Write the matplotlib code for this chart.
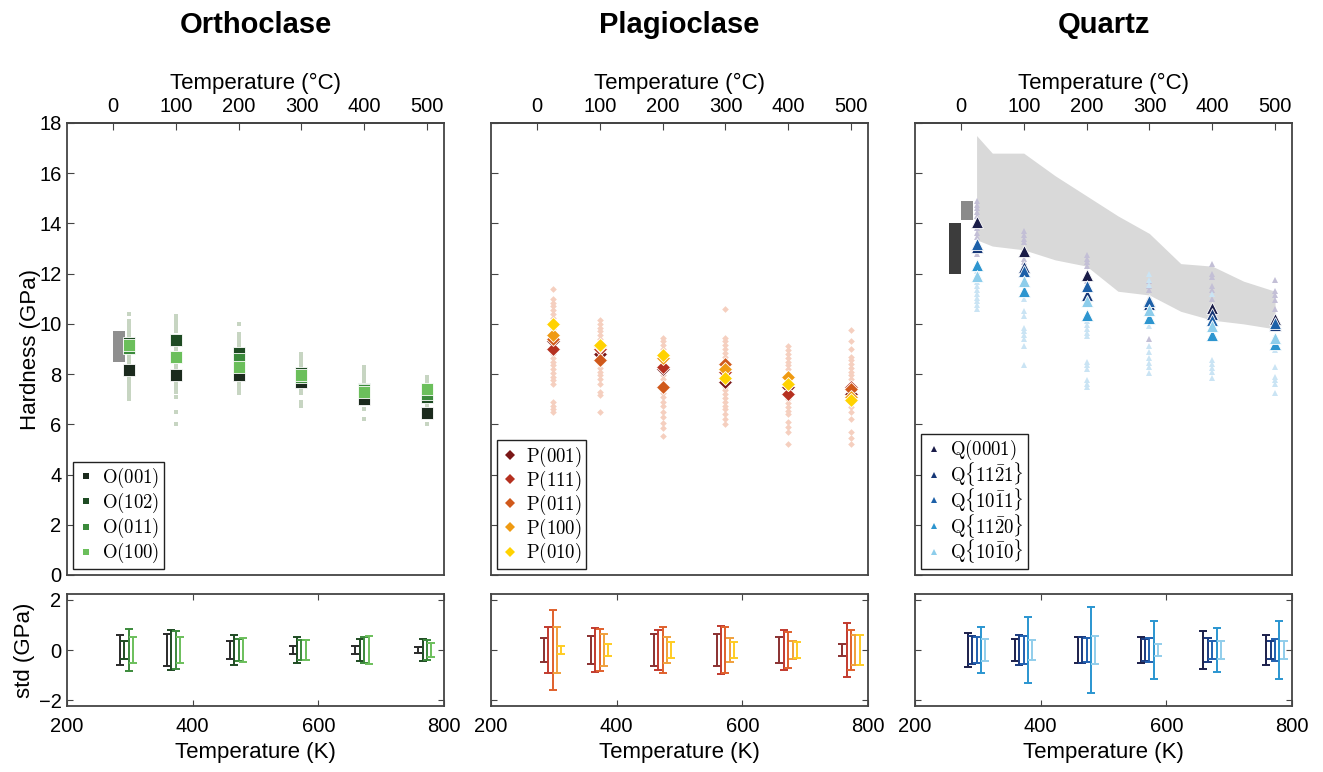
import matplotlib
matplotlib.use('Agg')
import matplotlib.pyplot as plt

plt.rcParams['font.family'] = ['Liberation Sans', 'DejaVu Sans']
plt.rcParams['mathtext.fontset'] = 'cm'

# ---------------- shared axes values ----------------
T_K = [298, 373, 473, 573, 673, 773]
T_C_ticks = [0, 100, 200, 300, 400, 500]
K_ticks = [200, 400, 600, 800]
H_ticks = [0, 2, 4, 6, 8, 10, 12, 14, 16, 18]
std_ticks = [-2, 0, 2]
bar_offsets = [-14, -7, 0, 7, 14]

# ---------------- Orthoclase ----------------
ortho_labels = [r'$\mathrm{O(001)}$', r'$\mathrm{O(102)}$', r'$\mathrm{O(011)}$', r'$\mathrm{O(100)}$']
ortho_colors = ['#1b2a1d', '#1e4b23', '#3b8a3b', '#6bbf5b']
ortho_bar_colors = ['#2a2a2a', '#1e4b23', '#3b8a3b', '#6bbf5b']
ortho_mean = [
    [8.15, 7.95, 7.95, 7.70, 7.00, 6.45],
    [9.25, 9.35, 8.85, 8.05, 7.40, 7.10],
    [9.05, 8.70, 8.60, 7.90, 7.35, 7.20],
    [9.15, 8.70, 8.30, 7.95, 7.30, 7.40],
]
ortho_std = [
    [0.61, 0.64, 0.37, 0.17, 0.17, 0.12],
    [0.37, 0.79, 0.61, 0.53, 0.42, 0.45],
    [0.83, 0.74, 0.42, 0.40, 0.50, 0.40],
    [0.52, 0.50, 0.48, 0.40, 0.56, 0.29],
]
ortho_pts = [
    [10.4, 10.1, 9.95, 9.8, 9.65, 9.5, 9.35, 9.2, 9.05, 8.9, 8.75, 8.6, 8.45, 8.3, 8.0, 7.85, 7.7, 7.55, 7.4, 7.25, 7.1, 7.0],
    [10.3, 10.15, 10.0, 9.85, 9.7, 9.5, 9.2, 9.05, 8.9, 8.75, 8.5, 8.35, 8.2, 7.75, 7.6, 7.45, 7.3, 7.1, 6.5, 6.0],
    [10.0, 9.6, 9.45, 9.3, 9.15, 9.0, 8.15, 8.0, 7.8, 7.65, 7.5, 7.35, 7.25],
    [8.8, 8.65, 8.5, 8.35, 8.2, 7.55, 7.4, 7.25, 6.9, 6.75],
    [8.3, 8.15, 8.0, 7.85, 7.7, 7.55, 7.1, 6.95, 6.8, 6.6, 6.2],
    [7.9, 7.75, 7.6, 7.45, 6.95, 6.8, 6.65, 6.0],
]
ortho_lit_T = [273, 292]
ortho_lit_H = [8.5, 9.7]

# ---------------- Plagioclase ----------------
plag_labels = [r'$\mathrm{P(001)}$', r'$\mathrm{P(111)}$', r'$\mathrm{P(011)}$', r'$\mathrm{P(100)}$', r'$\mathrm{P(010)}$']
plag_colors = ['#7a1616', '#b5301f', '#d0591b', '#ef9a12', '#ffd200']
plag_bar_colors = ['#8a3030', '#c23a2e', '#e0602c', '#f0a03c', '#ffcc22']
plag_mean = [
    [9.30, 8.80, 8.20, 7.70, 7.50, 7.20],
    [9.00, 9.00, 8.30, 8.10, 7.20, 7.50],
    [9.40, 8.55, 7.50, 8.40, 7.60, 7.40],
    [9.55, 9.10, 8.65, 8.20, 7.90, 7.10],
    [10.00, 9.15, 8.75, 7.85, 7.60, 6.95],
]
plag_std = [
    [0.48, 0.56, 0.63, 0.63, 0.50, 0.24],
    [0.93, 0.86, 0.79, 0.97, 0.79, 1.07],
    [1.60, 0.82, 0.91, 0.91, 0.71, 0.78],
    [0.93, 0.63, 0.52, 0.48, 0.36, 0.60],
    [0.17, 0.25, 0.30, 0.30, 0.33, 0.60],
]
plag_pts = [
    [11.4, 11.0, 10.85, 10.7, 10.55, 10.4, 10.25, 10.1, 9.8, 9.65, 9.2, 9.05, 8.8, 8.65, 8.5, 8.35, 8.2, 8.05, 7.9, 7.75, 7.6, 6.9, 6.75, 6.6, 6.5],
    [10.15, 10.0, 9.85, 9.7, 9.55, 9.4, 9.25, 8.75, 8.4, 8.25, 8.1, 7.95, 7.8, 7.6, 7.3, 7.15, 6.5],
    [9.45, 9.3, 9.15, 9.0, 8.85, 8.5, 8.35, 8.1, 7.95, 7.8, 7.25, 7.1, 6.9, 6.75, 6.5, 6.3, 6.05, 5.85, 5.55],
    [10.6, 9.45, 9.3, 9.15, 9.0, 8.85, 8.7, 7.9, 7.5, 7.35, 7.2, 7.05, 6.9, 6.75, 6.6, 6.4, 6.2, 6.0],
    [9.1, 8.95, 8.8, 8.65, 8.5, 8.35, 8.2, 7.0, 6.85, 6.7, 6.55, 6.4, 6.1, 5.9, 5.7, 5.2],
    [9.75, 9.3, 9.0, 8.7, 8.55, 8.4, 8.25, 8.1, 7.95, 7.8, 7.0, 6.85, 6.7, 6.5, 6.2, 5.7, 5.45, 5.2],
]

# ---------------- Quartz ----------------
qtz_labels = [r'$\mathrm{Q(0001)}$', r'$\mathrm{Q\{11\bar{2}1\}}$', r'$\mathrm{Q\{10\bar{1}1\}}$',
              r'$\mathrm{Q\{11\bar{2}0\}}$', r'$\mathrm{Q\{10\bar{1}0\}}$']
qtz_colors = ['#1a1c48', '#163777', '#1d60a8', '#2d95cf', '#8dcdeb']
qtz_bar_colors = ['#1b1f4b', '#1a3a80', '#2060b0', '#2a95d0', '#90cdeb']
qtz_mean = [
    [14.05, 12.90, 11.95, 10.95, 10.65, 10.20],
    [13.05, 12.25, 11.15, 10.80, 10.40, 9.95],
    [13.20, 12.10, 11.50, 10.90, 10.15, 10.05],
    [12.35, 11.30, 10.35, 10.25, 9.55, 9.20],
    [11.90, 11.70, 10.90, 10.55, 9.90, 9.45],
]
qtz_std = [
    [0.67, 0.42, 0.52, 0.50, 0.77, 0.61],
    [0.57, 0.58, 0.52, 0.45, 0.49, 0.37],
    [0.52, 0.54, 0.46, 0.48, 0.37, 0.42],
    [0.90, 1.32, 1.72, 1.15, 0.86, 1.14],
    [0.45, 0.41, 0.56, 0.24, 0.34, 0.34],
]
qtz_pts_lav = [
    [14.9, 14.75, 14.6, 14.45, 14.3, 13.8, 13.6, 13.45, 12.8],
    [13.7, 13.55, 13.4, 13.25, 12.6, 12.45, 12.1],
    [12.75, 12.6, 12.45, 12.3, 11.7, 11.55],
    [11.7, 11.5, 11.35, 9.4],
    [12.4, 12.0, 11.85, 11.5, 11.35, 11.0, 10.0],
    [11.75, 11.3, 11.15, 10.95, 10.6, 9.8],
]
qtz_pts_blue = [
    [12.1, 11.95, 11.8, 11.65, 11.5, 11.35, 11.2, 11.05, 10.9, 10.75, 10.6],
    [11.55, 11.0, 10.5, 10.3, 9.85, 9.7, 9.55, 9.4, 9.1, 8.35],
    [10.1, 9.95, 9.8, 9.65, 9.5, 8.5, 8.35, 8.2, 7.75, 7.6, 7.5],
    [12.0, 11.75, 11.55, 10.7, 9.9, 9.1, 8.9, 8.65, 8.45, 8.3, 8.05],
    [11.2, 9.4, 8.55, 8.4, 8.25, 8.1, 7.85],
    [9.5, 8.95, 8.3, 7.9, 7.75, 7.6, 7.25],
]
qtz_band_T = [298, 323, 373, 423, 473, 523, 573, 623, 673, 723, 773]
qtz_band_hi = [17.5, 16.8, 16.8, 15.9, 15.1, 14.3, 13.6, 12.4, 12.3, 11.7, 11.3]
qtz_band_lo = [13.35, 13.1, 12.95, 12.55, 12.3, 11.3, 11.15, 10.5, 10.15, 10.0, 9.8]
qtz_lit1_T = [273, 292.5]
qtz_lit1_H = [14.15, 14.9]
qtz_lit2_T = [254, 273]
qtz_lit2_H = [12.0, 14.0]

# ---------------- figure ----------------
W, H = 1323, 772
fig = plt.figure(figsize=(W / 100, H / 100), dpi=100)

lefts = [67, 491, 915]
pw = 377
top_box = (123, 575)
bot_box = (594, 706)
SPINE = '#444444'
titles = ['Orthoclase', 'Plagioclase', 'Quartz']


def frac_rect(l, y0, y1):
    return [l / W, 1 - y1 / H, pw / W, (y1 - y0) / H]


def style(ax):
    for s in ax.spines.values():
        s.set_color(SPINE)
        s.set_linewidth(1.3)


top_axes, bot_axes = [], []
for i, l in enumerate(lefts):
    ta = fig.add_axes(frac_rect(l, *top_box))
    ba = fig.add_axes(frac_rect(l, *bot_box))
    style(ta)
    style(ba)
    ta.set_xlim(200, 800)
    ta.set_ylim(0, 18)
    ta.set_yticks(H_ticks)
    ta.tick_params(axis='y', direction='in', length=5, labelsize=14.5, pad=4,
                   left=True, right=False, labelleft=(i == 0), color=SPINE)
    ta.tick_params(axis='x', bottom=False, labelbottom=False)
    sec = ta.secondary_xaxis('top', functions=(lambda k: k - 273.15, lambda c: c + 273.15))
    sec.set_xticks(T_C_ticks)
    sec.tick_params(direction='in', length=5, labelsize=14.5, pad=5, color=SPINE)
    sec.spines['top'].set_color(SPINE)
    sec.spines['top'].set_linewidth(1.3)
    sec.set_xlabel('Temperature (°C)', fontsize=16, labelpad=6)

    ba.set_xlim(200, 800)
    ba.set_ylim(-2.22, 2.22)
    ba.set_xticks(K_ticks)
    ba.set_yticks(std_ticks)
    ba.tick_params(direction='in', length=4, labelsize=14.5, top=True, right=True,
                   labelleft=(i == 0), color=SPINE)
    ba.tick_params(axis='x', pad=8)
    ba.tick_params(axis='y', pad=4)
    ba.set_xlabel('Temperature (K)', fontsize=16, labelpad=4)

    fig.text((l + pw / 2) / W, 1 - 25 / H, titles[i], ha='center', va='center',
             fontsize=21, fontweight='bold')
    top_axes.append(ta)
    bot_axes.append(ba)

top_axes[0].set_ylabel('Hardness (GPa)', fontsize=16)
top_axes[0].yaxis.set_label_coords(-0.068, 0.5)
bot_axes[0].set_ylabel('std (GPa)', fontsize=16)
bot_axes[0].yaxis.set_label_coords(-0.086, 0.5)


def draw_points(ax, pts, color, marker, ms):
    for T, vals in zip(T_K, pts):
        ax.plot([T] * len(vals), vals, ls='none', marker=marker, ms=ms, color=color, mew=0, zorder=2)


def draw_means(ax, means, colors, labels, marker, ms, lspace):
    handles = []
    for vals, c, lab in zip(means, colors, labels):
        h, = ax.plot(T_K, vals, ls='none', marker=marker, ms=ms, color=c, mec='white',
                     mew=0.6, label=lab, zorder=4)
        handles.append(h)
    leg = ax.legend(handles=handles, loc='lower left', fontsize=13.5, markerscale=0.62,
                    handlelength=1.0, handletextpad=0.35, borderpad=0.22, labelspacing=lspace,
                    borderaxespad=0.3, fancybox=False, framealpha=1)
    leg.get_frame().set_edgecolor('#222222')
    leg.get_frame().set_linewidth(1.0)
    for h in leg.legend_handles:
        h.set_markeredgewidth(0)


def draw_std(ax, stds, colors):
    n = len(stds)
    offs = bar_offsets[:n]
    for s, c, o in zip(stds, colors, offs):
        ax.errorbar([T + o for T in T_K], [0] * len(T_K), yerr=s, fmt='none', ecolor=c,
                    elinewidth=1.4, capsize=3, capthick=1.4, zorder=3)


# Orthoclase
ax = top_axes[0]
ax.fill_between(ortho_lit_T, ortho_lit_H[0], ortho_lit_H[1], color='#8f8f8f', lw=0, zorder=1)
draw_points(ax, ortho_pts, '#c7d5c2', 's', 3.2)
draw_means(ax, ortho_mean, ortho_colors, ortho_labels, 's', 8, 0.05)
draw_std(bot_axes[0], ortho_std, ortho_bar_colors)

# Plagioclase
ax = top_axes[1]
draw_points(ax, plag_pts, '#f5cfbf', 'D', 3.4)
draw_means(ax, plag_mean, plag_colors, plag_labels, 'D', 7.6, 0.0)
draw_std(bot_axes[1], plag_std, plag_bar_colors)

# Quartz
ax = top_axes[2]
ax.fill_between(qtz_band_T, qtz_band_lo, qtz_band_hi, color='#d9d9d9', lw=0, zorder=1)
ax.fill_between(qtz_lit1_T, qtz_lit1_H[0], qtz_lit1_H[1], color='#8a8a8a', lw=0, zorder=1)
ax.fill_between(qtz_lit2_T, qtz_lit2_H[0], qtz_lit2_H[1], color='#3c3c3c', lw=0, zorder=1)
draw_points(ax, qtz_pts_lav, '#c3bfd6', '^', 4.5)
draw_points(ax, qtz_pts_blue, '#cae4f4', '^', 4.5)
draw_means(ax, qtz_mean, qtz_colors, qtz_labels, '^', 8, -0.12)
draw_std(bot_axes[2], qtz_std, qtz_bar_colors)

fig.savefig('out.png', dpi=100)
